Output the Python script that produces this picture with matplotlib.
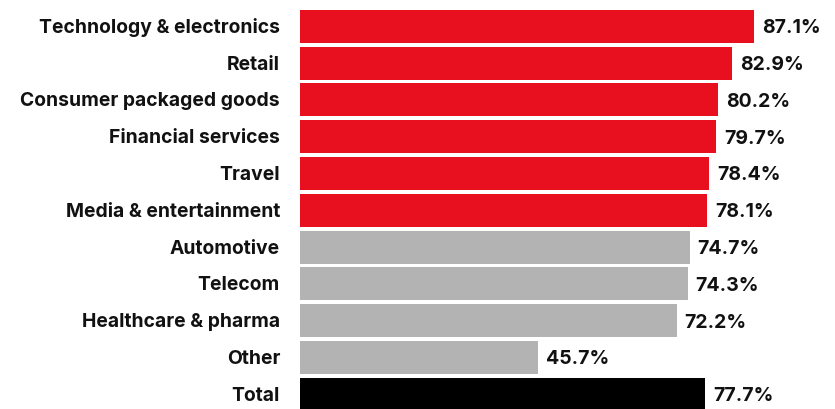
import matplotlib
matplotlib.use("Agg")
import matplotlib.pyplot as plt

categories = ["Technology & electronics", "Retail", "Consumer packaged goods",
              "Financial services", "Travel", "Media & entertainment",
              "Automotive", "Telecom", "Healthcare & pharma", "Other", "Total"]
values = [87.1, 82.9, 80.2, 79.7, 78.4, 78.1, 74.7, 74.3, 72.2, 45.7, 77.7]
value_labels = ["87.1%", "82.9%", "80.2%", "79.7%", "78.4%", "78.1%",
                "74.7%", "74.3%", "72.2%", "45.7%", "77.7%"]

RED = "#E8101E"
GRAY = "#B3B3B3"
colors = [RED] * 6 + [GRAY] * 4 + ["#000000"]

W, H = 835, 409
fig = plt.figure(figsize=(W / 100, H / 100), dpi=100)
ax = fig.add_axes([300 / W, 0, 535 / W, 1])
pitch = 36.8
ax.set_xlim(0, 535 / 5.217)
ax.set_ylim((H - 26.3) / pitch, -26.3 / pitch)
ys = list(range(len(categories)))
ax.barh(ys, values, height=33 / pitch, color=colors, edgecolor="none")
ax.axis("off")

for y, v, lab, cat in zip(ys, values, value_labels, categories):
    ax.annotate(lab, xy=(v, y), xytext=(8, -7), textcoords="offset pixels",
                va="baseline", ha="left", fontsize=14,
                fontweight="bold", family="Inter", color="#111111")
    ax.annotate(cat, xy=(0, y), xytext=(-20, -6.5), textcoords="offset pixels",
                va="baseline", ha="right", fontsize=13.9, fontweight="bold",
                family="Inter", color="#111111")

fig.savefig("out.png", dpi=100)
